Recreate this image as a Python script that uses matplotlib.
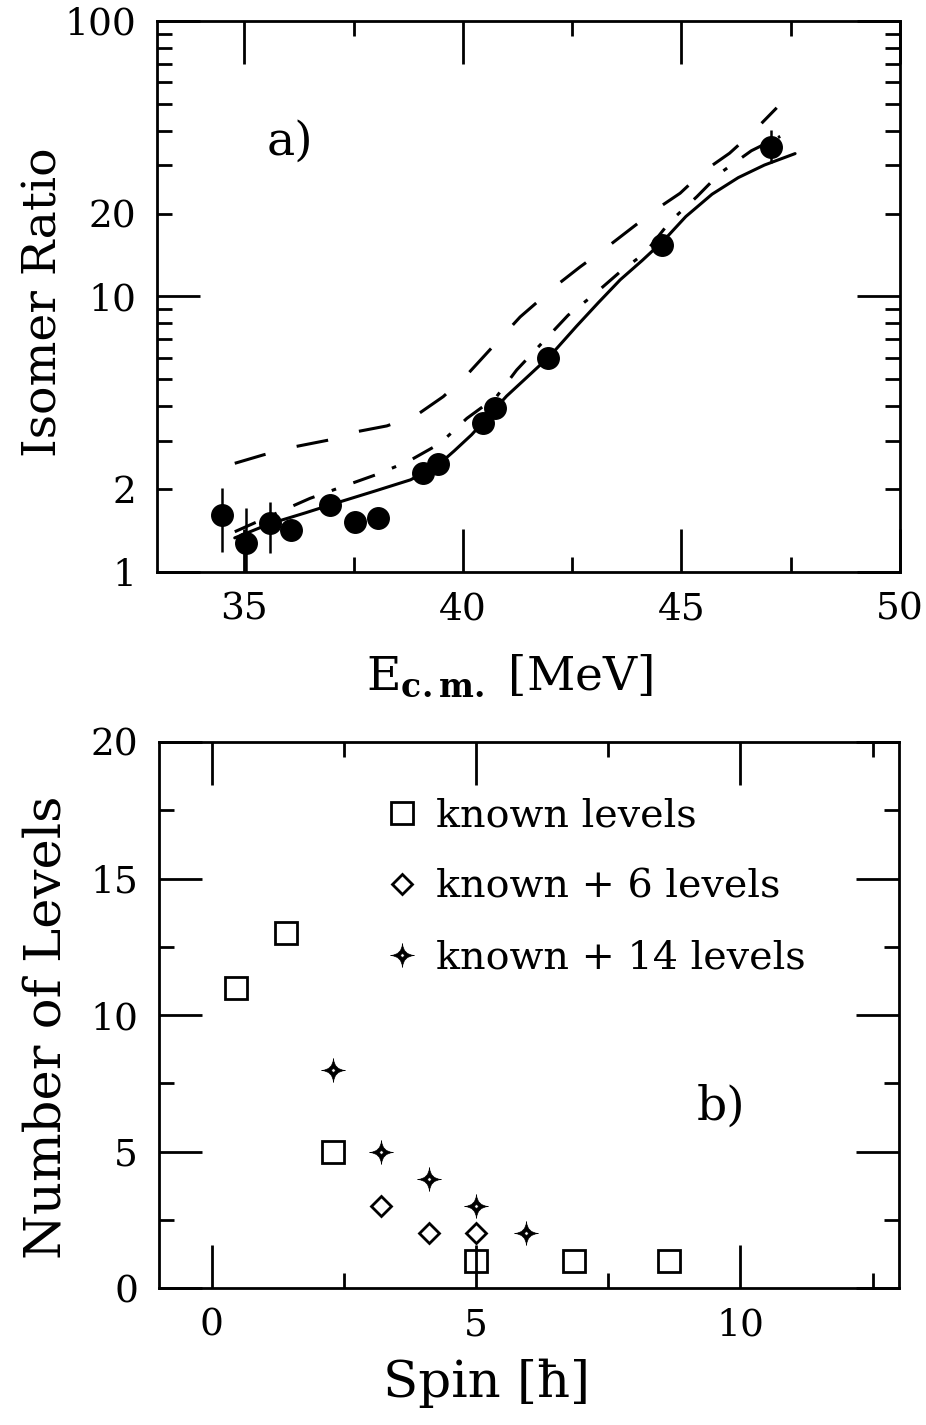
import numpy as np
import matplotlib
matplotlib.use('Agg')
import matplotlib.pyplot as plt
from matplotlib.path import Path

# ── Data: panel a) isomer ratio vs E_cm ──────────────────────────────────────
e_cm     = [34.48, 35.03, 35.59, 36.06, 36.97, 37.53, 38.06, 39.08, 39.44,
            40.45, 40.73, 41.95, 44.55, 47.04]
ratio    = [1.61, 1.27, 1.50, 1.42, 1.75, 1.52, 1.57, 2.28, 2.47,
            3.46, 3.93, 5.97, 15.4, 35.0]
err_lo   = [0.43, 0.30, 0.33, 0.05, 0.05, 0.05, 0.05, 0.08, 0.08,
            0.12, 0.12, 0.2, 0.5, 4.5]
err_hi   = [0.41, 0.44, 0.30, 0.05, 0.05, 0.05, 0.05, 0.08, 0.08,
            0.12, 0.12, 0.2, 0.5, 5.2]

solid_x  = [34.78, 35.6, 36.4, 37.2, 38.0, 38.8, 39.4, 39.8, 40.2, 40.6, 41.0,
            41.5, 42.0, 42.6, 43.1, 43.6, 44.1, 44.6, 45.1, 45.7, 46.3, 46.9, 47.6]
solid_y  = [1.33, 1.50, 1.64, 1.80, 1.97, 2.16, 2.42, 2.75, 3.15, 3.70, 4.35,
            5.15, 6.1, 7.8, 9.5, 11.5, 13.5, 16.0, 19.5, 23.5, 27.0, 30.0, 33.0]

dash_x   = [34.78, 35.43, 36.16, 36.92, 37.57, 38.26, 38.94, 39.55, 40.09, 40.58,
            41.31, 42.15, 42.68, 43.25, 43.82, 44.4, 44.97, 45.5, 46.1, 46.65, 47.18]
dash_y   = [2.48, 2.66, 2.85, 3.01, 3.23, 3.39, 3.71, 4.33, 5.19, 6.31,
            8.43, 11.0, 12.8, 14.9, 17.5, 20.6, 23.7, 28.4, 33.1, 39.7, 48.4]

dashdot_x = [34.78, 35.81, 36.5, 37.28, 38.03, 38.75, 39.48, 40.09, 40.77, 41.23,
             42.41, 42.98, 43.6, 44.17, 44.74, 45.35, 45.88, 46.6, 47.26]
dashdot_y = [1.40, 1.655, 1.85, 2.05, 2.26, 2.52, 2.93, 3.61, 4.33, 5.41,
             8.56, 10.1, 12.3, 14.4, 18.7, 23.0, 28.0, 33.8, 38.1]

# ── Data: panel b) number of levels vs spin ──────────────────────────────────
spin_known = [0.45, 1.4, 2.3, 5.0, 6.85, 8.65]
num_known  = [11, 13, 5, 1, 1, 1]
spin_p6    = [3.2, 4.1, 5.0]
num_p6     = [3, 2, 2]
spin_p14   = [2.3, 3.2, 4.1, 5.0, 5.95]
num_p14    = [8, 5, 4, 3, 2]

# ── Style ────────────────────────────────────────────────────────────────────
plt.rcParams['font.family'] = ['DejaVu Serif']
plt.rcParams['mathtext.fontset'] = 'dejavuserif'
TICK_FS  = 27
LABEL_FS = 34
LW       = 2.2


def star_marker():
    # four-pointed star with concave sides and a small hole in the middle
    tips = [(0, 1), (-1, 0), (0, -1), (1, 0)]
    c = 0.06
    verts, codes = [(0, 1)], [Path.MOVETO]
    for i in range(4):
        a, b = tips[i], tips[(i + 1) % 4]
        verts += [((a[0] + b[0]) * c, (a[1] + b[1]) * c), b]
        codes += [Path.CURVE3, Path.CURVE3]
    verts.append((0, 1)); codes.append(Path.CLOSEPOLY)
    r = 0.15
    t = np.linspace(0, -2 * np.pi, 13)[:-1]
    hole = list(zip(r * np.cos(t), r * np.sin(t)))
    verts += hole + [hole[0]]
    codes += [Path.MOVETO] + [Path.LINETO] * 11 + [Path.CLOSEPOLY]
    return Path(verts, codes)


STAR = star_marker()

fig = plt.figure(figsize=(9.26, 14.25), dpi=100)
fig.patch.set_facecolor('white')
ax1 = fig.add_axes([0.1695, 0.5986, 0.8024, 0.3867])
ax2 = fig.add_axes([0.1717, 0.0961, 0.7991, 0.3832])

for ax in (ax1, ax2):
    for sp in ax.spines.values():
        sp.set_linewidth(2.0)
    ax.tick_params(which='both', direction='in', top=True, right=True,
                   width=2.0, labelsize=TICK_FS)
    ax.tick_params(which='major', length=31)
    ax.tick_params(which='minor', length=11)
    ax.tick_params(axis='x', which='both', pad=14)
    ax.tick_params(axis='y', which='both', pad=15)

# ── Panel a) ─────────────────────────────────────────────────────────────────
ax1.plot(solid_x, solid_y, color='black', lw=LW, solid_capstyle='round')
ax1.plot(dash_x, dash_y, color='black', lw=LW, ls=(0, (10.5, 10.5)))
ax1.plot(dashdot_x, dashdot_y, color='black', lw=LW,
         ls=(0, (7.5, 6.0, 1.5, 6.0)))
ax1.errorbar(e_cm, ratio, yerr=[err_lo, err_hi], fmt='o', color='black',
             ms=15.5, elinewidth=1.8, capsize=0)

ax1.set_yscale('log')
ax1.set_xlim(33, 50)
ax1.set_ylim(1, 100)
ax1.set_xticks([35, 40, 45, 50])
ax1.set_xticks([37.5, 42.5, 47.5], minor=True)
ax1.set_yticks([1, 10, 100], ['1', '10', '100'])
minor_y = [2, 3, 4, 5, 6, 7, 8, 9, 20, 30, 40, 50, 60, 70, 80, 90]
ax1.set_yticks(minor_y, ['2' if v == 2 else '20' if v == 20 else '' for v in minor_y],
               minor=True)

ax1.set_ylabel('Isomer Ratio', fontsize=LABEL_FS)
ax1.yaxis.set_label_coords(-0.122, 0.49)
ax1.set_xlabel(r'E$_{\mathbf{c.m.}}$ [MeV]', fontsize=LABEL_FS)
ax1.xaxis.set_label_coords(0.475, -0.148)
ax1.text(0.148, 0.757, 'a)', transform=ax1.transAxes, fontsize=34,
         va='baseline', ha='left')

# ── Panel b) ─────────────────────────────────────────────────────────────────
ax2.plot(spin_known, num_known, ls='none', marker='s', ms=16, mfc='none',
         mec='black', mew=2.0, label='known levels')
ax2.plot(spin_p6, num_p6, ls='none', marker='D', ms=10.5, mfc='none',
         mec='black', mew=2.0, label='known + 6 levels')
ax2.plot(spin_p14, num_p14, ls='none', marker=STAR, ms=17, mfc='black',
         mec='black', mew=0.5, label='known + 14 levels')

ax2.set_xlim(-1, 13)
ax2.set_ylim(0, 20)
ax2.set_xticks([0, 5, 10])
ax2.set_xticks([2.5, 7.5, 12.5], minor=True)
ax2.set_yticks([0, 5, 10, 15, 20])
ax2.set_yticks([2.5, 7.5, 12.5, 17.5], minor=True)

ax2.set_ylabel('Number of Levels', fontsize=37)
ax2.yaxis.set_label_coords(-0.118, 0.478)
ax2.set_xlabel('Spin [ħ]', fontsize=37)
ax2.xaxis.set_label_coords(0.443, -0.13)
ax2.text(0.727, 0.308, 'b)', transform=ax2.transAxes, fontsize=34,
         va='baseline', ha='left')

ax2.legend(loc='upper left', bbox_to_anchor=(0.307, 0.898), frameon=False,
           fontsize=28.5, numpoints=1, handlelength=0.8, handletextpad=0.45,
           labelspacing=0.86, borderpad=0, borderaxespad=0)

fig.savefig('out.png', dpi=100, facecolor='white')
